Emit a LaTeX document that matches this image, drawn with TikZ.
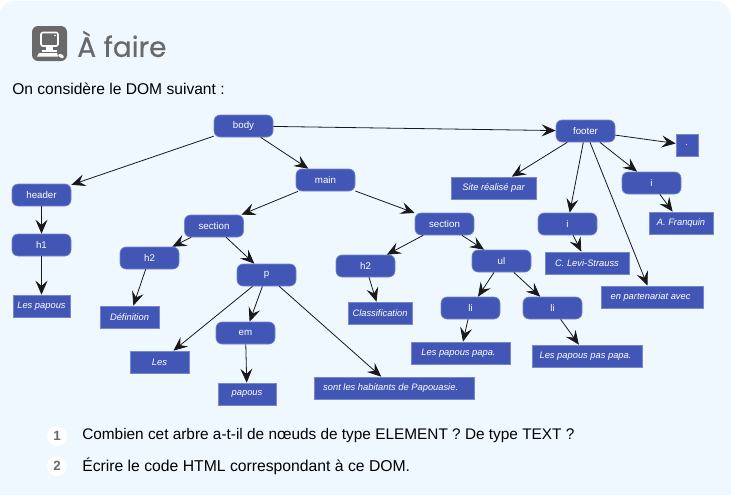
\documentclass[tikz,border=0pt]{standalone}
\usepackage{fontspec}
\setmainfont{Liberation Sans}
\newfontfamily\titlefont[FakeBold=0.5]{Poppins}
\usetikzlibrary{arrows.meta}
\definecolor{card}{HTML}{F0F8FF}
\definecolor{nodeblue}{HTML}{4257B5}
\definecolor{nodeedge}{HTML}{7886CC}
\definecolor{titlegray}{HTML}{696969}
\tikzset{
  x=0.75pt,y=-0.75pt,
  elem/.style={draw=nodeedge,fill=nodeblue,text=white,rounded corners=4.5pt,minimum width=44.25pt,minimum height=16.5pt,inner sep=0pt,line width=.5pt,font=\fontsize{7.3}{9}\selectfont},
  txt/.style={draw=nodeedge,fill=nodeblue,text=white,minimum height=16.5pt,inner sep=0pt,line width=.5pt,font=\fontsize{7}{9}\selectfont\itshape},
  link/.style={draw=black!90,line width=.6pt,-{Stealth[length=10.5pt,width=9pt,inset=4pt]}},
  body text/.style={anchor=west,inner sep=0pt,font=\fontsize{11.7}{14}\selectfont,text=black},
  numdisc/.style={circle,fill=white,minimum size=15pt,inner sep=0pt,text=titlegray,font=\fontsize{10}{12}\selectfont\bfseries}
}
\begin{document}
\begin{tikzpicture}
\useasboundingbox (0,0) rectangle (731,494);
\fill[white] (0,0) rectangle (731,494);
\fill[card,rounded corners=12pt] (-1,1) rectangle (731,520);
% title icon
\fill[titlegray,rounded corners=4.5pt] (32,26) rectangle (67,61);
\draw[white,line width=1.2pt,rounded corners=1.5pt] (41,32.5) rectangle (58,46);
\fill[white] (55,35.5) circle (.9);
\fill[white] (46,46) rectangle (53,49.5);
\fill[white] (42,49.5) rectangle (57,51.5);
\fill[white] (39,53) -- (57,53) -- (58,56.5) -- (37,56.5) -- cycle;
\fill[white,rotate around={-25:(61,56)}] (61,56) ellipse (3 and 1.7);
\node[anchor=west,inner sep=0pt,text=titlegray,font=\titlefont\fontsize{21}{24}\selectfont] (title) at (77,44) {À faire};
\node[body text] (intro) at (12,89) {On considère le DOM suivant :};
% element nodes
\node[elem] (body) at (243.5,126) {body};
\node[elem] (footer) at (585.5,131) {footer};
\node[elem] (main) at (325.5,180) {main};
\node[elem] (header) at (41.5,195) {header};
\node[elem] (sec1) at (214,226) {section};
\node[elem] (sec2) at (444.5,224) {section};
\node[elem] (i1) at (651.5,183) {i};
\node[elem] (i2) at (567.5,224) {i};
\node[elem] (h1) at (41.5,245) {h1};
\node[elem] (h2a) at (149.5,258) {h2};
\node[elem] (p) at (266.5,275) {p};
\node[elem] (h2b) at (365.5,266) {h2};
\node[elem] (ul) at (501.5,261) {ul};
\node[elem] (li1) at (470.5,308) {li};
\node[elem] (li2) at (552.5,308) {li};
\node[elem] (em) at (245.5,333) {em};
% text nodes
\node[txt,minimum width=16.5pt] (dot) at (687,145) {.};
\node[txt,minimum width=63.75pt] (site) at (493.5,188) {Site réalisé par};
\node[txt,minimum width=48pt] (franquin) at (681,223) {A. Franquin};
\node[txt,minimum width=63pt] (levi) at (587,263) {C. Levi-Strauss};
\node[txt,minimum width=76.5pt] (part) at (652,297) {\kern-2.2pt en partenariat avec};
\node[txt,minimum width=42.75pt] (tpap) at (41.5,306) {Les papous};
\node[txt,minimum width=44.25pt] (defi) at (129.5,317) {Définition};
\node[txt,minimum width=48pt] (classif) at (380,313) {Classification};
\node[txt,minimum width=44.25pt] (les) at (159.5,362) {Les};
\node[txt,minimum width=43.5pt] (papous) at (247,394) {papous};
\node[txt,minimum width=120pt] (sont) at (394,388) {\kern-5pt sont les habitants de Papouasie.};
\node[txt,minimum width=74.25pt] (papa) at (460.5,353) {\kern-3pt Les papous papa.};
\node[txt,minimum width=82.5pt] (pas) at (587,356) {\kern-2.2pt Les papous pas papa.};
% connectors
\foreach \a/\b in {body/header,body/main,body/footer,header/h1,h1/tpap,main/sec1,main/sec2,sec1/h2a,sec1/p,h2a/defi,p/les,p/em,p/sont,em/papous,sec2/h2b,sec2/ul,h2b/classif,ul/li1,ul/li2,li1/papa,li2/pas,footer/site,footer/i2,footer/i1,footer/dot,footer/part,i1/franquin,i2/levi}
  \draw[link] (\a) -- (\b);
% questions
\node[numdisc] (n1) at (57,436) {1};
\node[numdisc] (n2) at (57,466) {2};
\node[body text,font=\fontsize{11.53}{14}\selectfont] (q1) at (82,436) {Combien cet arbre a-t-il de nœuds de type ELEMENT ? De type TEXT ?};
\node[body text,font=\fontsize{11.8}{14}\selectfont] (q2) at (82,466) {Écrire le code HTML correspondant à ce DOM.};
\end{tikzpicture}
\end{document}
